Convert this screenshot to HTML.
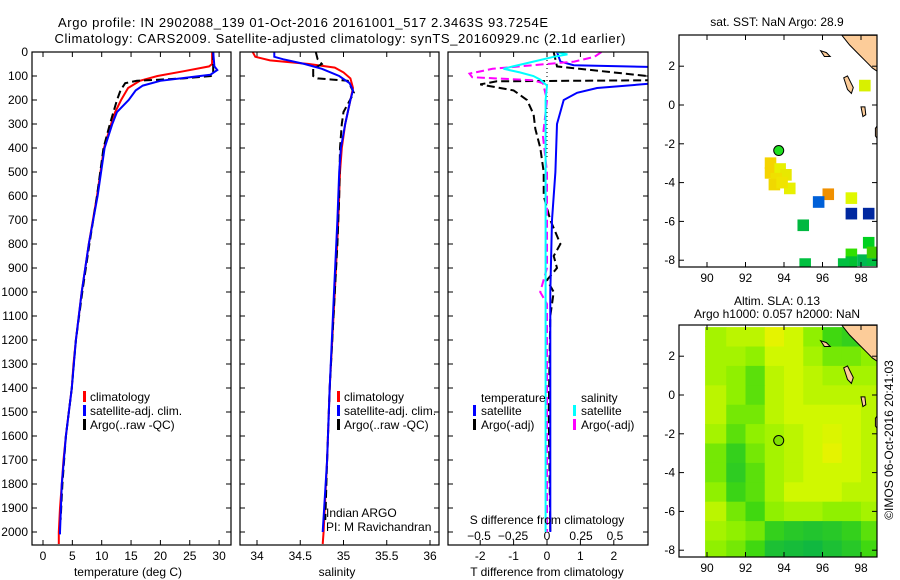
<!DOCTYPE html>
<html><head><meta charset="utf-8"><style>
body{margin:0;background:#fff}
svg{display:block;font-family:"Liberation Sans",sans-serif;font-size:12px}
</style></head><body>
<svg id="s" width="900" height="580" viewBox="0 0 900 580">
<rect width="900" height="580" fill="#fff"/>
<text x="303" y="27" text-anchor="middle" font-size="13" textLength="490">Argo profile: IN 2902088_139 01-Oct-2016 20161001_517 2.3463S 93.7254E</text>
<text x="340" y="43" text-anchor="middle" font-size="13" textLength="571">Climatology: CARS2009. Satellite-adjusted climatology: synTS_20160929.nc (2.1d earlier)</text>
<text x="777" y="26" text-anchor="middle">sat. SST: NaN Argo: 28.9</text>
<text x="777" y="305" text-anchor="middle">Altim. SLA: 0.13</text>
<text x="777" y="318" text-anchor="middle">Argo h1000: 0.057 h2000: NaN</text>
<text transform="translate(893,440) rotate(-90)" text-anchor="middle">©IMOS 06-Oct-2016 20:41:03</text>
<g id="g"></g>
</svg>
<script>
// ---- data ----
const depthTicks=[0,100,200,300,400,500,600,700,800,900,1000,1100,1200,1300,1400,1500,1600,1700,1800,1900,2000];
const tempTicks=[0,5,10,15,20,25,30];
const salTicks=[34,34.5,35,35.5,36];
const tdiffTicks=[-2,-1,0,1,2];
const sdiffTicks=[-0.5,-0.25,0,0.25,0.5];
const sdiffLabels=['\u22120.5','\u22120.25','0','0.25','0.5'];
const tClimDepth=[0,50,60,80,100,120,150,200,250,300,400,500,600,700,800,900,1000,1100,1200,1300,1400,1500,1600,1700,1800,1900,2000,2050];
const tClimVal=[28.8,28.8,28.3,24,19.5,16.5,14.5,13.3,12.3,11.6,10.4,9.8,9.2,8.5,7.8,7.2,6.6,6.1,5.6,5.2,4.9,4.4,3.9,3.5,3.2,2.9,2.7,2.7];
const tSatDepth=[0,60,75,95,105,120,140,160,200,250,300,400,600,800,1000,1200,1400,1600,1800,2000,2010];
const tSatVal=[29,29.2,29.7,28.5,25,20,17,15.8,14.6,12.6,11.8,10.5,9.3,7.8,6.6,5.6,4.9,3.9,3.2,2.9,2.9];
const tArgoDepth=[0,90,100,110,120,130,160,200,300,400,600,800,1000,1200,1400,1600,1800,1950];
const tArgoVal=[29,29,28.6,24,16,14,13.2,12.6,11.4,10.3,9.2,7.9,6.7,5.6,4.9,3.9,3.3,3.0];
const sClimDepth=[0,20,35,50,65,85,110,150,200,300,400,500,700,1000,1400,1700,2000,2050];
const sClimVal=[33.95,33.98,34.15,34.6,34.9,35.0,35.08,35.11,35.08,35.02,34.98,34.96,34.94,34.9,34.84,34.81,34.77,34.76];
const sSatDepth=[0,20,30,50,70,100,130,160,200,300,400,500,700,1000,1400,1700,2000];
const sSatVal=[34.2,34.2,34.3,34.55,34.75,34.95,35.07,35.11,35.08,35.02,34.97,34.95,34.93,34.89,34.84,34.81,34.76];
const sArgoDepth=[0,30,50,70,100,110,120,170,250,300,400,600,800,1000,1400,1700,1950];
const sArgoVal=[34.68,34.7,34.75,34.65,34.65,34.7,35.05,35.12,35.0,34.98,34.96,34.95,34.93,34.9,34.84,34.81,34.79];
const dTSatDepth=[0,40,55,62,70,100,115,133,150,170,200,300,500,700,1000,2000];
const dTSatVal=[0.3,0.4,0.8,3,6,9,4.5,3.0,1.5,0.9,0.5,0.3,0.25,0.15,0.1,0.1];
const dTArgoDepth=[0,60,100,115,122,135,160,200,260,320,400,500,600,700,800,850,900,950,1000,1100,1500,2000];
const dTArgoVal=[0.2,0.3,3,6,-1.5,-2,-1,-0.6,-0.4,-0.35,-0.2,-0.1,-0.1,0.1,0.4,0.2,0.3,0.0,0.2,0.1,0.05,0.1];
const dSSatDepth=[0,10,20,40,60,70,85,100,115,140,200,400,1000,2000];
const dSSatVal=[0.07,0.15,0.05,-0.1,-0.25,-0.32,-0.2,-0.1,-0.05,0,-0.01,-0.01,-0.01,-0.01];
const dSArgoDepth=[0,20,40,55,70,90,105,118,130,200,350,400,500,900,1000,1050,2000];
const dSArgoVal=[0.4,0.35,0.2,-0.1,-0.4,-0.57,-0.55,-0.1,-0.03,0,-0.03,-0.02,0,0,-0.05,0,0];
const latTicks=[2,0,-2,-4,-6,-8];
const lonTicks=[90,92,94,96,98];
const sstLon=[93.3,93.3,93.8,94.1,93.6,93.5,94.3,93.9,96.3,95.8,97.5,97.5,98.4,95.0,98.4,97.5,97.5,98.1,98.6,98.6,95.1,97.1,98.2];
const sstLat=[-3.0,-3.5,-3.3,-3.6,-3.8,-4.1,-4.3,-4.0,-4.6,-5.0,-4.8,-5.6,-5.6,-6.2,-7.1,-7.7,-8.1,-8.0,-8.0,-7.6,-8.2,-8.2,1.0];
const sstCol=['#f5d400','#f5d400','#e8f000','#e8e800','#f0e000','#f0d800','#e8f000','#f0e400','#f09000','#0060d8','#e0f800','#0028a0','#0028a0','#00b840','#00d020','#30e000','#00c030','#00b850','#00c040','#40d000','#00c040','#00c040','#d8f000'];
const argoLon=93.7254, argoLat=-2.3463;
const slaLats=[3,2,1,0,-1,-2,-3,-4,-5,-6,-7,-8];
const slaLons=[90,91,92,93,94,95,96,97,98];
const slaVals=[
[0.8,0.9,0.9,1.1,1.0,0.7,0.4,0.3,0.3],
[0.8,0.8,0.7,1.0,1.0,0.8,0.6,0.6,0.7],
[0.8,0.7,0.5,0.9,1.0,0.9,0.8,0.8,0.8],
[0.9,0.7,0.5,0.9,1.0,0.9,0.9,0.9,0.9],
[0.9,0.6,0.6,0.9,1.0,1.0,1.0,1.0,0.9],
[0.8,0.5,0.7,0.8,0.9,1.0,1.05,1.0,0.9],
[0.6,0.3,0.6,0.8,0.9,1.0,1.1,1.0,0.9],
[0.6,0.25,0.5,0.8,0.9,1.0,1.0,1.0,0.9],
[0.7,0.35,0.5,0.8,1.0,1.0,1.0,0.9,0.9],
[0.9,0.6,0.4,0.7,0.8,0.8,0.7,0.7,0.8],
[0.8,0.7,0.6,0.3,0.2,0.15,0.2,0.3,0.5],
[0.7,0.6,0.4,0.1,0.05,0.0,0.1,0.2,0.4]];

// ---- helpers ----
const NS='http://www.w3.org/2000/svg', G=document.getElementById('g');
function mk(tag,attrs,parent){const e=document.createElementNS(NS,tag);for(const k in attrs)e.setAttribute(k,attrs[k]);(parent||G).appendChild(e);return e;}
function txt(x,y,s,anchor,parent){const t=mk('text',{x:x,y:y,'text-anchor':anchor||'middle'},parent);t.textContent=s;return t;}
const yD=d=>52+d*0.24;
const xT=v=>43+v*5.87, xS=v=>257+(v-34)*86.5, xDT=v=>547+v*33.4, xDS=v=>547+v*136;
function clip(id,x0,y0,x1,y1){const c=mk('clipPath',{id:id});mk('rect',{x:x0,y:y0,width:x1-x0,height:y1-y0},c);}
function line(depths,vals,xf,color,dash,cp,name){
  let d='';for(let i=0;i<depths.length;i++)d+=(i?'L':'M')+xf(vals[i]).toFixed(1)+','+yD(depths[i]).toFixed(1);
  const p=mk('path',{d:d,fill:'none',stroke:color,'stroke-width':2,'stroke-dasharray':dash||'none','clip-path':'url(#'+cp+')'});
  
  
}
function frame(x0,y0,x1,y1,name){const r=mk('rect',{x:x0,y:y0,width:x1-x0,height:y1-y0,fill:'none',stroke:'#000','stroke-width':1.2});
  
  }
function legendBar(x,y,c){mk('rect',{x:x,y:y-10,width:3,height:11,fill:c});}

// ---- profile panels ----
const P=[[32,231,'temp'],[240,439,'sal'],[448,648,'diff']];
P.forEach(p=>clip('c'+p[2],p[0],52,p[1],545));
depthTicks.forEach(d=>{
  const l=txt(28,yD(d)+4,String(d),'end');
  
  
  P.forEach(p=>{mk('line',{x1:p[0],x2:p[0]+5,y1:yD(d),y2:yD(d),stroke:'#000'});mk('line',{x1:p[1],x2:p[1]-5,y1:yD(d),y2:yD(d),stroke:'#000'});});
});
function xticks(ticks,xf,y0,y1,ly){ticks.forEach(v=>{const x=xf(v);
  mk('line',{x1:x,x2:x,y1:y1,y2:y1-5,stroke:'#000'});mk('line',{x1:x,x2:x,y1:y0,y2:y0+5,stroke:'#000'});
  if(ly){const t=txt(x,ly,String(v));
  
  }});}
xticks(tempTicks,xT,52,545,560);
xticks(salTicks,xS,52,545,560);
xticks(tdiffTicks,xDT,52,545,560);
sdiffTicks.forEach((v,i)=>{const t=txt(xDS(v),540,sdiffLabels[i]);
  
  });
mk('line',{x1:547,x2:547,y1:52,y2:160,stroke:'#000','stroke-dasharray':'1,3'});
line(tClimDepth,tClimVal,xT,'#f00',null,'ctemp','temp-climatology-line');
line(tArgoDepth,tArgoVal,xT,'#000','8,4','ctemp','temp-argo-line');
line(tSatDepth,tSatVal,xT,'#00f',null,'ctemp','temp-satellite-line');
line(sClimDepth,sClimVal,xS,'#f00',null,'csal','sal-climatology-line');
line(sArgoDepth,sArgoVal,xS,'#000','8,4','csal','sal-argo-line');
line(sSatDepth,sSatVal,xS,'#00f',null,'csal','sal-satellite-line');
line(dTArgoDepth,dTArgoVal,xDT,'#000','8,4','cdiff','tdiff-argo-line');
line(dTSatDepth,dTSatVal,xDT,'#00f',null,'cdiff','tdiff-satellite-line');
line(dSArgoDepth,dSArgoVal,xDS,'#f0f','8,4','cdiff','sdiff-argo-line');
line(dSSatDepth,dSSatVal,xDS,'#0ff',null,'cdiff','sdiff-satellite-line');
P.forEach(p=>frame(p[0],52,p[1],545,p[2]+'-panel-frame'));
[[128,'temperature (deg C)'],[337,'salinity'],[547,'T difference from climatology']].forEach(a=>{const t=txt(a[0],576,a[1]);
  
  });
{const t=txt(547,524,'S difference from climatology');}
[['#f00','climatology',401],['#00f','satellite-adj. clim.',415],['#000','Argo(..raw -QC)',429]].forEach(l=>{
  legendBar(83,l[2],l[0]);const t=txt(90,l[2],l[1],'start');
  legendBar(337,l[2],l[0]);const t2=txt(344,l[2],l[1],'start');
});
txt(326,517,'Indian ARGO','start');txt(326,531,'PI: M Ravichandran','start');
txt(481,402,'temperature','start');txt(581,402,'salinity','start');
[['#00f','satellite',415,473],['#000','Argo(-adj)',429,473],['#0ff','satellite',415,573],['#f0f','Argo(-adj)',429,573]].forEach(l=>{
  legendBar(l[3],l[2],l[0]);const t=txt(l[3]+8,l[2],l[1],'start');});

// ---- maps ----
const MX0=679,MX1=877;
const xL=lon=>707+(lon-90)*19.25;
function mapAxes(y0,y1,yLat,name){
  latTicks.forEach(la=>{const y=yLat(la);mk('line',{x1:MX0,x2:MX0+5,y1:y,y2:y,stroke:'#000'});mk('line',{x1:MX1,x2:MX1-5,y1:y,y2:y,stroke:'#000'});
    const t=txt(675,y+4,String(la),'end');});
  lonTicks.forEach(lo=>{const x=xL(lo);mk('line',{x1:x,x2:x,y1:y0,y2:y0+5,stroke:'#000'});mk('line',{x1:x,x2:x,y1:y1,y2:y1-5,stroke:'#000'});
    const t=txt(x,y1+15,String(lo));});
  frame(MX0,y0,MX1,y1,name);
}
function land(yLat,cp){
  const g=mk('g',{'clip-path':'url(#'+cp+')'});
  const pts=a=>a.map(p=>xL(p[0]).toFixed(1)+','+yLat(p[1]).toFixed(1)).join(' ');
  mk('polygon',{points:pts([[97.0,3.6],[97.4,3.1],[97.9,2.6],[98.3,2.2],[98.6,1.9],[98.9,1.7],[98.9,3.6]]),fill:'#fccc99',stroke:'#000','stroke-width':1},g);
  mk('polygon',{points:pts([[98.9,-1.0],[98.75,-1.2],[98.75,-1.6],[98.9,-1.8]]),fill:'#fccc99',stroke:'#000'},g);
  mk('polygon',{points:pts([[95.9,2.8],[96.2,2.7],[96.4,2.5],[96.1,2.5]]),fill:'#fccc99',stroke:'#000'},g);
  mk('polygon',{points:pts([[97.1,1.4],[97.3,1.5],[97.6,0.9],[97.5,0.6],[97.3,0.8]]),fill:'#fccc99',stroke:'#000'},g);
  mk('polygon',{points:pts([[98.0,-0.1],[98.2,-0.1],[98.25,-0.5],[98.1,-0.6]]),fill:'#fccc99',stroke:'#000'},g);
}
const yA=la=>105-la*19.4;
clip('cmap1',MX0,35,MX1,267);
const m1=mk('g',{'clip-path':'url(#cmap1)'});


for(let i=0;i<sstLon.length;i++){const r=mk('rect',{x:xL(sstLon[i]-0.3),y:yA(sstLat[i]+0.3),width:0.6*19.25,height:0.6*19.4,fill:sstCol[i]},m1);
  
  }
land(yA,'cmap1');
mapAxes(35,267,yA,'sst-map-frame');
{const c=mk('circle',{cx:xL(argoLon),cy:yA(argoLat),r:5,fill:'#20e020',stroke:'#000'});}
const yB=la=>395-la*19.4;
clip('cmap2',MX0,325,MX1,557);
const m2=mk('g',{'clip-path':'url(#cmap2)'});


const stops=[[0,[16,184,64]],[0.4,[64,216,16]],[0.7,[144,240,0]],[1.0,[208,248,0]],[1.15,[240,240,0]]];
function cmap(v){for(let i=1;i<stops.length;i++){if(v<=stops[i][0]||i==stops.length-1){const a=stops[i-1],b=stops[i];let t=(v-a[0])/(b[0]-a[0]);t=Math.max(0,Math.min(1,t));
  return 'rgb('+a[1].map((c,k)=>Math.round(c+(b[1][k]-c)*t)).join(',')+')';}}}
slaLats.forEach((la,r)=>slaLons.forEach((lo,c)=>{
  const rc=mk('rect',{x:c==0?xL(89.9):xL(lo),y:yB(la+0.5),width:(c==0?xL(lo+1)-xL(89.9):19.25)+0.5,height:19.9,fill:cmap(slaVals[r][c])},m2);
  
  
}));
land(yB,'cmap2');
mapAxes(325,557,yB,'sla-map-frame');
{const c=mk('circle',{cx:xL(argoLon),cy:yB(argoLat),r:5,fill:'#80e000',stroke:'#000'});}
</script>
</body></html>
